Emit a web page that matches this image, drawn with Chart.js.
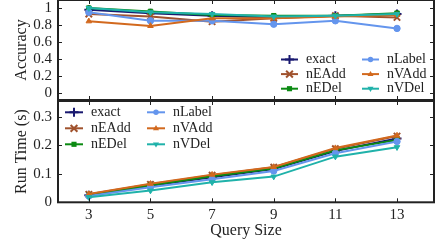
<!DOCTYPE html>
<html>
<head>
<meta charset="utf-8">
<script src="https://cdn.jsdelivr.net/npm/chart.js@4/dist/chart.umd.min.js"></script>
<style>
  body { margin: 0; background: #fff; }
  #wrap { position: relative; width: 448px; height: 241px; overflow: hidden; }
  canvas { position: absolute; left: 0; }
  #accChart { top: 0; }
  #timeChart { top: 100px; }
</style>
</head>
<body>
<div id="wrap">
  <canvas id="accChart" width="448" height="101"></canvas>
  <canvas id="timeChart" width="448" height="141"></canvas>
</div>
<script>
const querySizes = [3, 5, 7, 9, 11, 13];
const seriesNames = ["exact", "nEAdd", "nEDel", "nLabel", "nVAdd", "nVDel"];

// accuracy (top panel)
const accExact  = [0.98, 0.94, 0.91, 0.89, 0.91, 0.93];
const accNEAdd  = [0.93, 0.90, 0.84, 0.88, 0.91, 0.89];
const accNEDel  = [1.00, 0.96, 0.92, 0.91, 0.91, 0.94];
const accNLabel = [0.95, 0.85, 0.85, 0.81, 0.85, 0.76];
const accNVAdd  = [0.845, 0.79, 0.88, 0.88, 0.90, 0.92];
const accNVDel  = [1.00, 0.95, 0.93, 0.90, 0.91, 0.93];

// run time in seconds (bottom panel)
const rtExact  = [0.025, 0.058, 0.088, 0.117, 0.180, 0.224];
const rtNEAdd  = [0.028, 0.063, 0.095, 0.123, 0.188, 0.232];
const rtNEDel  = [0.025, 0.060, 0.091, 0.118, 0.182, 0.218];
const rtNLabel = [0.022, 0.053, 0.081, 0.110, 0.172, 0.213];
const rtNVAdd  = [0.029, 0.065, 0.097, 0.124, 0.190, 0.234];
const rtNVDel  = [0.018, 0.041, 0.070, 0.090, 0.160, 0.193];

const accTicks = [0, 0.2, 0.4, 0.6, 0.8, 1];
const timeTicks = [0, 0.1, 0.2, 0.3];

const colors = ["#191970", "#a0522d", "#0b8a12", "#6495ed", "#d2691e", "#20b2aa"];
const markers = ["cross", "crossRot", "rect", "circle", "triangle", "triangle"];
const rotations = [0, 0, 0, 0, 0, 180];

const FONT = "'Liberation Serif', 'Times New Roman', serif";
const INK = "#222";

function makeDatasets(lists) {
  return lists.map((vals, i) => ({
    label: seriesNames[i],
    data: querySizes.map((q, j) => ({ x: q, y: vals[j] })),
    borderColor: colors[i],
    backgroundColor: colors[i],
    borderWidth: 2,
    pointStyle: markers[i],
    pointRotation: rotations[i],
    pointRadius: markers[i] === "cross" || markers[i] === "crossRot" ? 4.5 : 3.2,
    pointBorderWidth: markers[i] === "cross" || markers[i] === "crossRot" ? 2 : 1,
    pointBorderColor: colors[i],
    pointBackgroundColor: colors[i],
    order: lists.length - i,
    tension: 0
  }));
}

function drawMarker(ctx, style, x, y, r, rot, color) {
  ctx.save();
  ctx.translate(x, y);
  ctx.rotate(rot * Math.PI / 180);
  ctx.strokeStyle = color;
  ctx.fillStyle = color;
  ctx.beginPath();
  if (style === "cross") {
    ctx.lineWidth = 2;
    ctx.moveTo(-r, 0); ctx.lineTo(r, 0);
    ctx.moveTo(0, -r); ctx.lineTo(0, r);
    ctx.stroke();
  } else if (style === "crossRot") {
    ctx.lineWidth = 2;
    const d = r * 0.75;
    ctx.moveTo(-d, -d); ctx.lineTo(d, d);
    ctx.moveTo(-d, d); ctx.lineTo(d, -d);
    ctx.stroke();
  } else if (style === "rect") {
    ctx.fillRect(-r * 0.8, -r * 0.8, r * 1.6, r * 1.6);
  } else if (style === "circle") {
    ctx.arc(0, 0, r * 0.85, 0, Math.PI * 2);
    ctx.fill();
  } else if (style === "triangle") {
    ctx.moveTo(0, -r);
    ctx.lineTo(r * 0.95, r * 0.6);
    ctx.lineTo(-r * 0.95, r * 0.6);
    ctx.closePath();
    ctx.fill();
  }
  ctx.restore();
}

// frame with inward ticks on all four sides
const framePlugin = {
  id: "frame",
  afterDatasetsDraw(chart) {
    const { ctx, chartArea: a, scales } = chart;
    const len = 4;
    ctx.save();
    ctx.strokeStyle = INK;
    ctx.lineWidth = 1;
    ctx.beginPath();
    scales.x.ticks.forEach(t => {
      const px = Math.round(scales.x.getPixelForValue(t.value)) + 0.5;
      ctx.moveTo(px, a.bottom); ctx.lineTo(px, a.bottom - len);
      ctx.moveTo(px, a.top); ctx.lineTo(px, a.top + len);
    });
    scales.y.ticks.forEach(t => {
      const py = Math.round(scales.y.getPixelForValue(t.value)) + 0.5;
      ctx.moveTo(a.left, py); ctx.lineTo(a.left + len, py);
      ctx.moveTo(a.right, py); ctx.lineTo(a.right - len, py);
    });
    ctx.stroke();
    ctx.lineWidth = 2;
    ctx.strokeRect(a.left, a.top, a.right - a.left, a.bottom - a.top);
    ctx.restore();
  }
};

// two-column legend drawn inside the plot
const legendPlugin = {
  id: "boxLegend",
  afterDraw(chart, args, opts) {
    const { ctx, chartArea: a } = chart;
    ctx.save();
    ctx.font = "14px " + FONT;
    ctx.textBaseline = "middle";
    ctx.fillStyle = INK;
    chart.data.datasets.forEach((ds, i) => {
      const col = Math.floor(i / 3), row = i % 3;
      const x0 = a.left + opts.left + col * opts.colGap;
      const y = a.top + opts.top + row * opts.rowGap;
      ctx.strokeStyle = ds.borderColor;
      ctx.lineWidth = 2;
      ctx.beginPath();
      ctx.moveTo(x0, y); ctx.lineTo(x0 + opts.lineLen, y);
      ctx.stroke();
      drawMarker(ctx, ds.pointStyle, x0 + opts.lineLen / 2, y, ds.pointRadius, ds.pointRotation, ds.borderColor);
      ctx.fillStyle = INK;
      ctx.fillText(ds.label, x0 + opts.lineLen + 8, y);
    });
    ctx.restore();
  }
};

function fixedTicks(values) {
  return scale => { scale.ticks = values.map(v => ({ value: v })); };
}

function noPadding(s) {
  s.paddingTop = 0;
  s.paddingBottom = 0;
  s.paddingLeft = 0;
  s.paddingRight = 0;
}

function yAxis(title, min, max, tickVals, fmt) {
  return {
    type: "linear",
    min: min,
    max: max,
    afterBuildTicks: fixedTicks(tickVals),
    afterFit: s => { s.width = 58; noPadding(s); },
    grid: { display: false, drawTicks: false },
    border: { display: false },
    ticks: {
      padding: 6,
      autoSkip: false,
      color: INK,
      font: { family: FONT, size: 15 },
      callback: fmt
    },
    title: {
      display: true,
      text: title,
      color: INK,
      font: { family: FONT, size: 16 },
      padding: { top: 12, bottom: 0 }
    }
  };
}

new Chart(document.getElementById("accChart"), {
  type: "line",
  data: {
    datasets: makeDatasets([accExact, accNEAdd, accNEDel, accNLabel, accNVAdd, accNVDel])
  },
  options: {
    responsive: false,
    animation: false,
    devicePixelRatio: 1,
    layout: { autoPadding: false, padding: { top: 0, right: 14, bottom: 1, left: 0 } },
    scales: {
      x: {
        type: "linear",
        display: false,
        min: 2,
        max: 14.2,
        afterBuildTicks: fixedTicks(querySizes)
      },
      y: yAxis("Accuracy", -0.086, 1.096, accTicks, v => String(v))
    },
    plugins: {
      legend: { display: false },
      tooltip: { enabled: false },
      boxLegend: { left: 223, top: 59.5, colGap: 81, rowGap: 14.6, lineLen: 17 }
    }
  },
  plugins: [framePlugin, legendPlugin]
});

new Chart(document.getElementById("timeChart"), {
  type: "line",
  data: {
    datasets: makeDatasets([rtExact, rtNEAdd, rtNEDel, rtNLabel, rtNVAdd, rtNVDel])
  },
  options: {
    responsive: false,
    animation: false,
    devicePixelRatio: 1,
    layout: { autoPadding: false, padding: { top: 1, right: 14, bottom: 0, left: 0 } },
    scales: {
      x: {
        type: "linear",
        min: 2,
        max: 14.2,
        afterBuildTicks: fixedTicks(querySizes),
        afterFit: s => { s.height = 38.7; noPadding(s); },
        grid: { display: false, drawTicks: false },
        border: { display: false },
        ticks: {
          padding: 4,
          autoSkip: false,
          color: INK,
          font: { family: FONT, size: 15 },
          maxRotation: 0,
          callback: v => String(v)
        },
        title: {
          display: true,
          text: "Query Size",
          color: INK,
          font: { family: FONT, size: 16 },
          padding: { top: 0, bottom: 1 }
        }
      },
      y: yAxis("Run Time (s)", 0, 0.355, timeTicks, v => String(v))
    },
    plugins: {
      legend: { display: false },
      tooltip: { enabled: false },
      boxLegend: { left: 7, top: 11.3, colGap: 82, rowGap: 16, lineLen: 18 }
    }
  },
  plugins: [framePlugin, legendPlugin]
});
</script>
</body>
</html>
